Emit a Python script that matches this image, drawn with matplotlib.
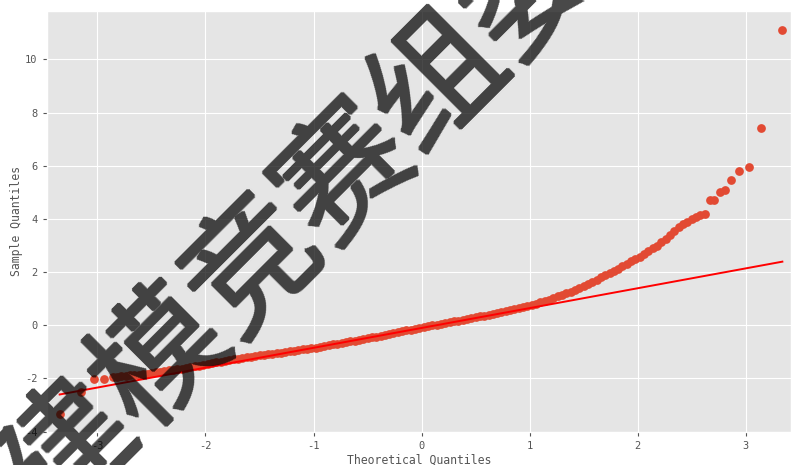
import matplotlib
matplotlib.use("Agg")
import numpy as np
import matplotlib.pyplot as plt

# sorted sample against normal theoretical quantiles (lower tail, body, upper tail)
low_theo = [-3.35, -3.15, -3.03, -2.94, -2.86]
low_sample = [-3.33, -2.50, -2.02, -2.02, -1.96]

body_theo = [
    -2.82, -2.78, -2.74, -2.70, -2.66, -2.62, -2.58, -2.54, -2.50, -2.46,
    -2.42, -2.38, -2.34, -2.30, -2.26, -2.22, -2.18, -2.14, -2.10, -2.06,
    -2.02, -1.98, -1.94, -1.90, -1.86, -1.82, -1.78, -1.74, -1.70, -1.66,
    -1.62, -1.58, -1.54, -1.50, -1.46, -1.42, -1.38, -1.34, -1.30, -1.26,
    -1.22, -1.18, -1.14, -1.10, -1.06, -1.02, -0.98, -0.94, -0.90, -0.86,
    -0.82, -0.78, -0.74, -0.70, -0.66, -0.62, -0.58, -0.54, -0.50, -0.46,
    -0.42, -0.38, -0.34, -0.30, -0.26, -0.22, -0.18, -0.14, -0.10, -0.06,
    -0.02, 0.02, 0.06, 0.10, 0.14, 0.18, 0.22, 0.26, 0.30, 0.34,
    0.38, 0.42, 0.46, 0.50, 0.54, 0.58, 0.62, 0.66, 0.70, 0.74,
    0.78, 0.82, 0.86, 0.90, 0.94, 0.98, 1.02, 1.06, 1.10, 1.14,
    1.18, 1.22, 1.26, 1.30, 1.34, 1.38, 1.42, 1.46, 1.50, 1.54,
    1.58, 1.62, 1.66, 1.70, 1.74, 1.78, 1.82, 1.86, 1.90, 1.94,
    1.98, 2.02, 2.06, 2.10, 2.14, 2.18, 2.22, 2.26, 2.30, 2.34,
    2.38, 2.42, 2.46, 2.50, 2.54, 2.58, 2.62,
]
body_sample = [
    -1.94, -1.92, -1.91, -1.89, -1.88, -1.86, -1.84, -1.82, -1.80, -1.77,
    -1.75, -1.73, -1.70, -1.68, -1.66, -1.63, -1.61, -1.58, -1.55, -1.52,
    -1.49, -1.46, -1.43, -1.40, -1.37, -1.34, -1.32, -1.29, -1.27, -1.24,
    -1.21, -1.19, -1.17, -1.14, -1.12, -1.10, -1.08, -1.05, -1.03, -1.01,
    -0.98, -0.96, -0.94, -0.91, -0.89, -0.86, -0.84, -0.81, -0.78, -0.75,
    -0.72, -0.70, -0.67, -0.64, -0.61, -0.58, -0.55, -0.52, -0.49, -0.46,
    -0.43, -0.39, -0.36, -0.33, -0.30, -0.27, -0.23, -0.20, -0.17, -0.13,
    -0.10, -0.07, -0.04, -0.01, 0.02, 0.05, 0.08, 0.11, 0.14, 0.17,
    0.20, 0.24, 0.27, 0.30, 0.33, 0.36, 0.40, 0.43, 0.46, 0.50,
    0.53, 0.57, 0.61, 0.64, 0.68, 0.72, 0.76, 0.81, 0.86, 0.91,
    0.96, 1.02, 1.08, 1.14, 1.20, 1.26, 1.33, 1.40, 1.48, 1.56,
    1.63, 1.71, 1.80, 1.88, 1.96, 2.05, 2.13, 2.22, 2.31, 2.40,
    2.49, 2.58, 2.68, 2.79, 2.89, 2.99, 3.12, 3.26, 3.40, 3.54,
    3.69, 3.81, 3.90, 4.00, 4.07, 4.13, 4.20,
]

high_theo = [2.67, 2.71, 2.76, 2.81, 2.86, 2.94, 3.03, 3.14, 3.34]
high_sample = [4.71, 4.71, 5.00, 5.07, 5.46, 5.80, 5.96, 7.41, 11.10]

# reference line through the quantiles
fit_intercept = -0.105
fit_slope = 0.747

watermark = "数学建模竞赛组委会"

theo = np.array(low_theo + body_theo + high_theo)
sample = np.array(low_sample + body_sample + high_sample)


def thicken(img, dpi):
    # grow the glyph coverage by about a pixel, then fade it uniformly
    a = img[..., 3]
    h, w = a.shape
    p = np.pad(a, 1)
    grown = a.copy()
    for dy in (0, 1, 2):
        for dx in (0, 1, 2):
            grown = np.maximum(grown, p[dy:dy + h, dx:dx + w])
    out = np.zeros_like(img)
    out[..., 3] = grown * 0.72
    return out, 0, 0


plt.style.use("ggplot")
plt.rcParams["font.family"] = ["DejaVu Sans Mono", "Noto Sans CJK SC"]
plt.rcParams["axes.unicode_minus"] = False

fig = plt.figure(figsize=(7.91, 4.65), dpi=100)
ax = fig.add_axes([46.7 / 791, 1 - 431.5 / 465, (791 - 46.7) / 791, (431.5 - 11) / 465])

ax.plot(theo, sample, "o", color="#E24A33", markeredgecolor="#E24A33",
        markersize=6.3, markeredgewidth=0)

line_x = np.array([theo.min(), theo.max()])
ax.plot(line_x, fit_intercept + fit_slope * line_x, color="red", lw=1.4)

ax.set_xlim(-3.47, 3.42)
ax.set_ylim(-4.0, 11.82)
ax.set_xticks([-3, -2, -1, 0, 1, 2, 3])
ax.set_yticks([-4, -2, 0, 2, 4, 6, 8, 10])
ax.tick_params(labelsize=7.5, length=3, colors="#555555")
ax.set_xlabel("Theoretical Quantiles", fontsize=8.3, color="#555555", labelpad=2)
ax.set_ylabel("Sample Quantiles", fontsize=8.3, color="#555555", labelpad=1.5)

wm = fig.text(255 / 791, 1 - 266 / 465, watermark, family="Noto Sans CJK SC",
              fontsize=94, rotation=45, rotation_mode="anchor",
              ha="center", va="center", color="black", zorder=10)
wm.set_agg_filter(thicken)

fig.savefig("out.png", dpi=100)
